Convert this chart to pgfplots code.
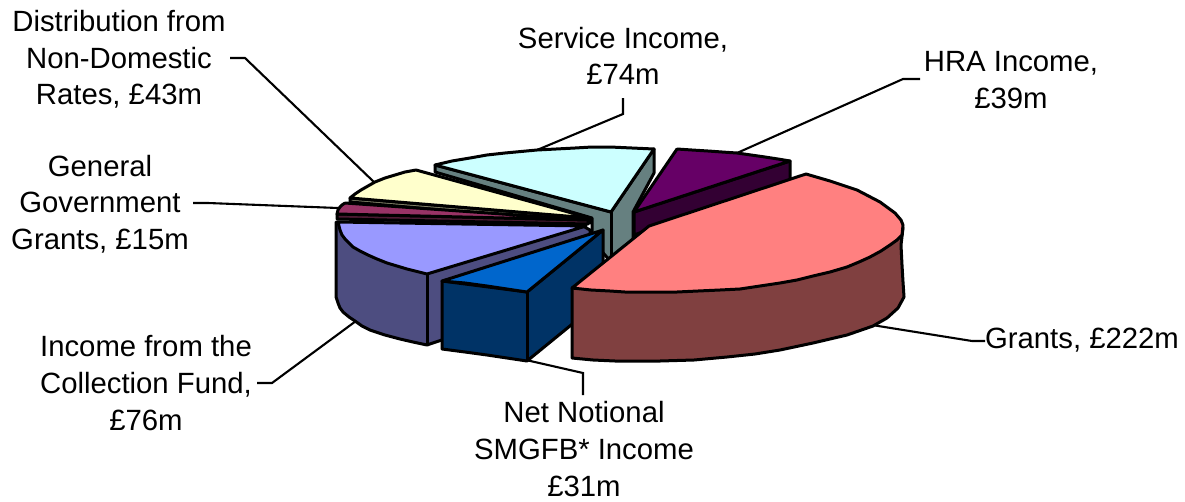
\documentclass[border=0pt]{standalone}
\usepackage{pgfplots}
\pgfplotsset{compat=1.18}
\usepackage{fontspec}
\setmainfont{Liberation Sans}
\definecolor{pinkT}{HTML}{FF8080}\definecolor{pinkW}{HTML}{804040}
\definecolor{cyanT}{HTML}{CCFFFF}\definecolor{cyanW}{HTML}{668080}
\definecolor{purpT}{HTML}{660066}\definecolor{purpW}{HTML}{330033}
\definecolor{yellT}{HTML}{FFFFCC}\definecolor{yellW}{HTML}{808066}
\definecolor{maroT}{HTML}{993366}\definecolor{maroW}{HTML}{4D1A33}
\definecolor{lilaT}{HTML}{9999FF}\definecolor{lilaW}{HTML}{4D4D80}
\definecolor{blueT}{HTML}{0066CC}\definecolor{blueW}{HTML}{003366}
\begin{document}
\begin{tikzpicture}
\path[use as bounding box] (0,0) rectangle (1185pt,501pt);
\begin{axis}[
  at={(0,0)}, anchor=south west,
  scale only axis, width=1185pt, height=501pt,
  xmin=0, xmax=1185, ymin=0, ymax=501, y dir=reverse,
  hide axis, clip=false, no markers,
  face/.style={draw=black,line width=3pt,line join=round,line cap=round,fill=#1},
  lead/.style={draw=black,line width=2.1pt,line join=miter},
  nodes={font=\fontsize{29.3}{36.7}\selectfont, align=center, inner sep=0pt, text=black},
]
% leader lines
\addplot[lead] coordinates {(230,58) (245,58) (375,183)};
\addplot[lead] coordinates {(193,203) (208,203) (338,208)};
\addplot[lead] coordinates {(257,383) (272,383) (356,321)};
\addplot[lead] coordinates {(526,360) (583,373) (583,395)};
\addplot[lead] coordinates {(872,325) (972,341) (985,341)};
\addplot[lead] coordinates {(920,79) (903,79) (737,153)};
\addplot[lead] coordinates {(623,98) (623,114) (537,150)};
% service income
\addplot[face=cyanW] coordinates {(435,165) (611,212) (654,149) (654,173) (633,212) (633,240) (611,262) (592,240) (592,218) (435,172) (435,165)};
\addplot[draw=black,line width=3pt] coordinates {(611,212) (611,262)};
\addplot[face=cyanT] coordinates {(435,165) (452,161) (470,158) (487,155) (505,153) (537,150) (556,149) (575,148) (592,147) (610,147) (632,148) (654,149) (611,212) (435,165)};
% HRA
\addplot[face=purpW] coordinates {(634,212) (790,161) (790,180) (634,235) (634,212)};
\addplot[face=purpT] coordinates {(677,149) (692,150) (708,151) (722,152) (737,153) (751,155) (765,157) (778,159) (790,161) (634,212) (677,149)};
% distribution
\addplot[face=yellW] coordinates {(350,198) (590,218) (590,223) (350,202) (350,198)};
\addplot[face=yellT] coordinates {(416,170) (405,172) (395,175) (385,178) (375,182) (368,186) (361,190) (355,194) (350,198) (590,218) (416,170)};
% general gov
\addplot[face=maroW] coordinates {(337,214) (588,220) (588,224) (337,219) (337,214)};
\addplot[face=maroT] coordinates {(345,203) (342,205) (340,207) (338,210) (337,214) (588,220) (345,203)};
% collection fund
\addplot[face=lilaW] coordinates {(336,222) (336,297) (338,303) (340,308) (343,312) (349,317) (355,321) (362,326) (370,330) (385,335) (400,339) (413,342) (427,345) (590,290) (590,230) (583,226) (336,222)};
\addplot[draw=black,line width=3pt] coordinates {(427,274) (427,345)};
\addplot[face=lilaT] coordinates {(338,222) (339,226) (340,230) (342,235) (345,239) (349,243) (353,247) (360,251) (368,255) (377,259) (387,263) (407,269) (427,274) (586,226) (338,222)};
% net notional
\addplot[face=blueW] coordinates {(442,281) (527,292) (603,230) (603,299) (527,361) (507,358) (487,355) (465,352) (442,349) (442,281)};
\addplot[draw=black,line width=3pt] coordinates {(527,292) (527,361)};
\addplot[face=blueT] coordinates {(442,281) (465,283) (487,286) (507,289) (527,292) (603,230) (442,281)};
% grants
\addplot[face=pinkW] coordinates {(572,288) (572,358) (593,360) (615,361) (637,361) (660,361) (694,360) (727,357) (755,354) (780,350) (813,343) (847,335) (873,326) (887,318) (898,308) (904,297) (903,282) (902,265) (901,245) (903,228) (572,288)};
\addplot[face=pinkT] coordinates {(572,288) (649,226) (806,174) (830,181) (857,190) (880,202) (895,213) (901,220) (903,225) (902,235) (897,240) (890,245) (881,251) (870,257) (859,262) (847,267) (830,272) (813,276) (797,280) (780,283) (760,286) (740,289) (720,290) (698,291) (677,292) (658,292) (640,292) (625,292) (610,291) (591,290) (572,288)};
% labels
\node at (axis cs:119,59.5) {Distribution from\\Non-Domestic\\Rates, £43m};
\node at (axis cs:623,56) {Service Income,\\£74m};
\node at (axis cs:1011,80) {HRA Income,\\£39m};
\node at (axis cs:100,204) {General\\Government\\Grants, £15m};
\node at (axis cs:146,383) {Income from the\\Collection Fund,\\£76m};
\node at (axis cs:584,449) {Net Notional\\SMGFB* Income\\£31m};
\node at (axis cs:1082,340) {Grants, £222m};
\end{axis}
\end{tikzpicture}
\end{document}
